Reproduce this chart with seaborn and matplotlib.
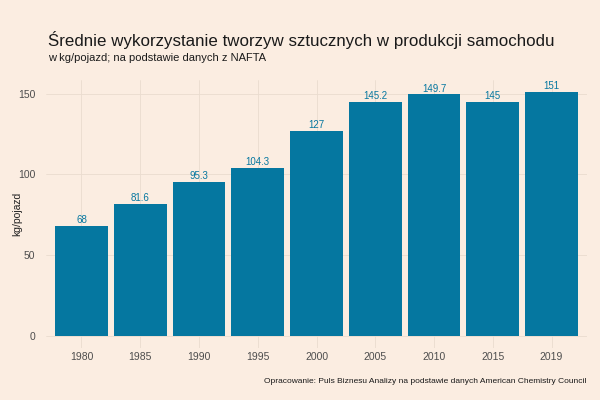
import matplotlib
matplotlib.use("Agg")
import matplotlib.pyplot as plt
import seaborn as sns
import pandas as pd

years = ["1980", "1985", "1990", "1995", "2000", "2005", "2010", "2015", "2019"]
values = [68, 81.6, 95.3, 104.3, 127, 145.2, 149.7, 145, 151]
value_labels = ["68", "81.6", "95.3", "104.3", "127", "145.2", "149.7", "145", "151"]
y_ticks = [0, 50, 100, 150]

BG = "#FBEDE1"
BAR = "#0577A0"
GRID = "#EADCCF"
TXT = "#4D4D4D"

sns.set_theme(style="white")
plt.rcParams["font.family"] = ["Liberation Sans", "DejaVu Sans"]

df = pd.DataFrame({"year": years, "value": values})

fig = plt.figure(figsize=(6, 4), dpi=100, facecolor=BG)
ax = fig.add_axes([0.077, 0.13, 0.901, 0.67])
ax.set_facecolor(BG)

sns.barplot(data=df, x="year", y="value", order=years, color=BAR,
            width=0.9, saturation=1, ax=ax, zorder=2, linewidth=0,
            edgecolor=BAR)

for i, (v, lab) in enumerate(zip(values, value_labels)):
    ax.annotate(lab, (i, v), xytext=(0, 0.5), textcoords="offset points",
                ha="center", va="bottom", fontsize=7, color=BAR, zorder=3)

ax.set_ylim(-7.55, 158.55)
ax.set_xlim(-0.6, len(years) - 0.4)
ax.set_yticks(y_ticks)
ax.set_yticklabels([str(t) for t in y_ticks])
ax.grid(True, color=GRID, linewidth=0.6, zorder=0)
ax.set_axisbelow(True)
for s in ax.spines.values():
    s.set_visible(False)
ax.tick_params(axis="x", length=0, labelsize=7.5, labelcolor=TXT, pad=3)
ax.tick_params(axis="y", length=0, labelsize=7.5, labelcolor=TXT, pad=8)
ax.set_xlabel("")
ax.set_ylabel("kg/pojazd", fontsize=7.5, color="#222222")
ax.yaxis.set_label_coords(-0.044, 0.5)

fig.text(0.08, 0.885, "Średnie wykorzystanie tworzyw sztucznych w produkcji samochodu",
         fontsize=12.2, color="#1a1a1a", va="baseline", ha="left")
fig.text(0.08, 0.848, "w kg/pojazd; na podstawie danych z NAFTA",
         fontsize=8, color="#1a1a1a", va="baseline", ha="left")
fig.text(0.978, 0.043, "Opracowanie: Puls Biznesu Analizy na podstawie danych American Chemistry Council",
         fontsize=6.05, color="#1a1a1a", va="baseline", ha="right")

fig.savefig("out.png", dpi=100, facecolor=BG)
